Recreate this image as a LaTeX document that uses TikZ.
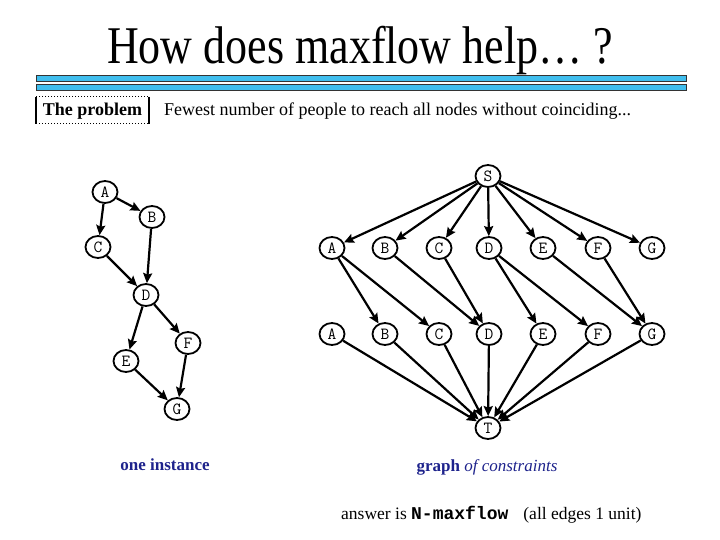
\documentclass[tikz,border=0pt]{standalone}
\usepackage{fontspec}
\setmainfont{Liberation Serif}
\newfontfamily\boldmono{Liberation Mono}
\usetikzlibrary{arrows.meta,shapes.geometric}
\definecolor{navy}{RGB}{30,35,140}
\definecolor{barblue}{RGB}{64,190,238}
\begin{document}
\begin{tikzpicture}[x=1pt,y=-1pt,
  vtx/.style={ellipse,draw,line width=1.8pt,minimum width=25pt,minimum height=22pt,inner sep=0pt,font=\ttfamily\fontsize{17}{17}\selectfont},
  arr/.style={line width=2.2pt,-{Stealth[length=10pt,width=9pt,inset=1.5pt]}},
  bar/.style={fill=barblue,draw=black!80,line width=0.8pt}]
\useasboundingbox (0,0) rectangle (720,540);
% title
\node[anchor=base,font=\fontsize{53}{53}\selectfont,inner sep=0pt,xscale=0.83] (title) at (360,64) {How does maxflow help… ?};
\draw[bar] (36,75) rectangle (686,81);
\draw[bar] (36,84) rectangle (686,90);
% problem box
\draw[dotted,line width=1pt] (36,97) rectangle (149,124);
\draw[line width=1.5pt] (36,97) -- (36,124) (149,97) -- (149,124);
\node[anchor=base,font=\bfseries\fontsize{18}{18}\selectfont,inner sep=0pt] (prob) at (92.5,116) {The problem};
\node[anchor=base west,font=\fontsize{18}{18}\selectfont,inner sep=0pt] (desc) at (164,116) {Fewest number of people to reach all nodes without coinciding...};
% left graph
\node[vtx] (lA) at (105,192) {A};
\node[vtx] (lB) at (152,217) {B};
\node[vtx] (lC) at (98,247) {C};
\node[vtx] (lD) at (146,295) {D};
\node[vtx] (lE) at (126,361) {E};
\node[vtx] (lF) at (188,343) {F};
\node[vtx] (lG) at (177,409) {G};
\foreach \a/\b in {A/B,A/C,B/D,C/D,D/E,D/F,E/G,F/G}
  \draw[arr] (l\a) -- (l\b);
\node[font=\bfseries\fontsize{17}{17}\selectfont,text=navy,inner sep=0pt] (inst) at (165,465) {one instance};
% right graph
\node[vtx] (S) at (488,176) {S};
\node[vtx] (T) at (488,428) {T};
\foreach \n/\x in {A/332,B/385,C/439,D/489,E/543,F/598,G/652}{
  \node[vtx] (u\n) at (\x,248) {\n};
  \node[vtx] (v\n) at (\x,334) {\n};
  \draw[arr] (S) -- (u\n);
  \draw[arr] (v\n) -- (T);
}
\foreach \a/\b in {A/B,A/C,B/D,C/D,D/E,D/F,E/G,F/G}
  \draw[arr] (u\a) -- (v\b);
\node[anchor=base,font=\fontsize{17}{17}\selectfont,text=navy,inner sep=0pt] (cons) at (487,471) {\textbf{graph} \textit{of constraints}};
\node[anchor=base west,font=\fontsize{17.5}{17.5}\selectfont,inner sep=0pt] (ans) at (341,519) {answer is {\boldmono\bfseries\fontsize{18}{18}\selectfont N-maxflow}\hspace{15pt}(all edges 1 unit)};
\end{tikzpicture}
\end{document}
